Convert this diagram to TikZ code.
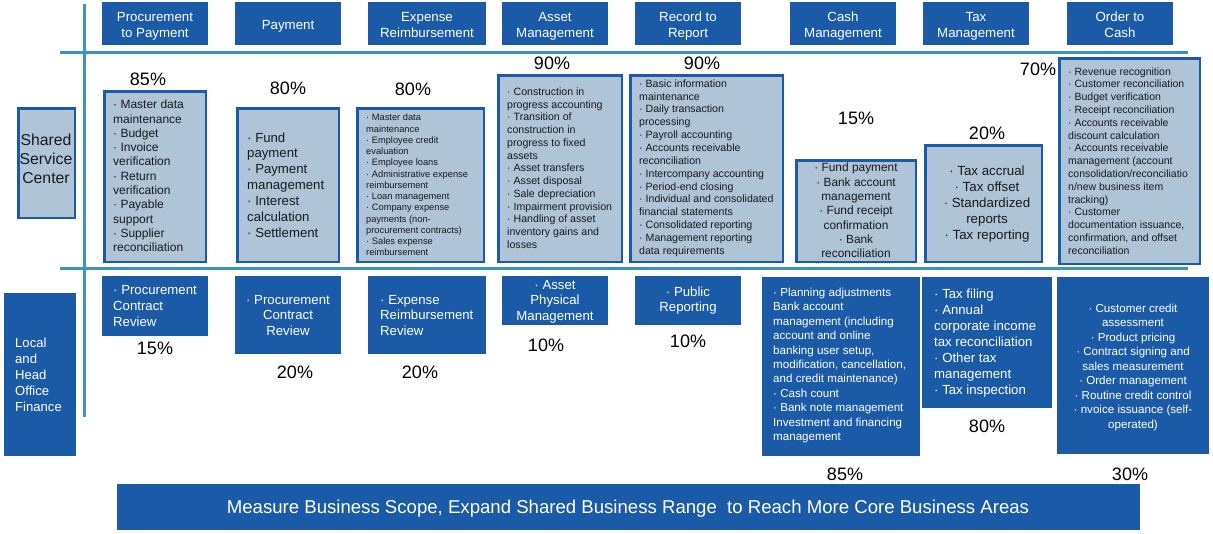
\documentclass[tikz,border=0pt]{standalone}
\usepackage{fontspec}
\setmainfont{Liberation Sans}
\definecolor{dblue}{RGB}{27,90,167}
\definecolor{lfill}{RGB}{176,196,216}
\definecolor{tealline}{RGB}{58,150,190}
\definecolor{dtext}{RGB}{25,25,25}
\tikzset{
  hdr/.style={fill=dblue, draw=none, inner sep=0pt},
  hdrt/.style={inner sep=0pt, text=white, align=center, text depth=2.8pt,
              font=\fontsize{13.3}{16}\selectfont},
  mbox/.style={fill=lfill, draw=dblue, line width=2.5pt, inner sep=0pt},
  bbox/.style={fill=dblue, draw=none, inner sep=0pt},
  tline/.style={draw=tealline, line width=3pt},
  pct/.style={font=\fontsize{18}{20}\selectfont, inner sep=0pt, text=black},
  wt/.style={text=white, inner sep=0pt},
  dt/.style={text=dtext, inner sep=0pt},
}
\begin{document}
\begin{tikzpicture}[x=1pt, y=-1pt]
\useasboundingbox (0,0) rectangle (1213,533);

% grid lines
\coordinate (la1) at (60,52);   \coordinate (la2) at (1188,52);
\coordinate (lb1) at (60,268);  \coordinate (lb2) at (1188,268);
\coordinate (lv1) at (84,4);    \coordinate (lv2) at (84,417);
\draw[tline] (la1) -- (la2);
\draw[tline] (lb1) -- (lb2);
\draw[tline] (lv1) -- (lv2);

% headers
\node[hdr, minimum width=106pt, minimum height=43pt] (h1) at (155,23.5) {};
\node[hdr, minimum width=106pt, minimum height=43pt] (h2) at (288,23.5) {};
\node[hdr, minimum width=118pt, minimum height=43pt] (h3) at (427,23.5) {};
\node[hdr, minimum width=106pt, minimum height=43pt] (h4) at (555,23.5) {};
\node[hdr, minimum width=106pt, minimum height=43pt] (h5) at (688,23.5) {};
\node[hdr, minimum width=106pt, minimum height=43pt] (h6) at (843,23.5) {};
\node[hdr, minimum width=106pt, minimum height=43pt] (h7) at (976,23.5) {};
\node[hdr, minimum width=106pt, minimum height=43pt] (h8) at (1120,23.5) {};
\node[hdrt] (h1t) at (155,26.5) {Procurement\\to Payment};
\node[hdrt] (h2t) at (288,26.5) {Payment};
\node[hdrt] (h3t) at (427,26.5) {Expense\\Reimbursement};
\node[hdrt] (h4t) at (555,26.5) {Asset\\Management};
\node[hdrt] (h5t) at (688,26.5) {Record to\\Report};
\node[hdrt] (h6t) at (843,26.5) {Cash\\Management};
\node[hdrt] (h7t) at (976,26.5) {Tax\\Management};
\node[hdrt] (h8t) at (1120,26.5) {Order to\\Cash};

% left labels
\node[mbox, minimum width=56.5pt, minimum height=109.5pt] (ssc) at (46.5,163) {};
\node[dt, align=center, font=\fontsize{15.8}{19}\selectfont] (ssct) at (46,159) {Shared\\Service\\Center};
\node[bbox, minimum width=72pt, minimum height=163pt] (lhof) at (40,374.5) {};
\node[wt, align=left, anchor=west, font=\fontsize{13.1}{16}\selectfont] (lhoft) at (15,375) {Local\\and\\Head\\Office\\Finance};

% middle boxes
\node[mbox, minimum width=101.5pt, minimum height=170.5pt] (m1) at (155,176.5) {};
\node[mbox, minimum width=101.5pt, minimum height=153.5pt] (m2) at (288,185) {};
\node[mbox, minimum width=126.5pt, minimum height=153.5pt] (m3) at (420.5,185) {};
\node[mbox, minimum width=123.5pt, minimum height=186.5pt] (m4) at (560,168.5) {};
\node[mbox, minimum width=152.5pt, minimum height=186.5pt] (m5) at (706.5,168.5) {};
\node[mbox, minimum width=119.5pt, minimum height=101.5pt] (m6) at (856,211) {};
\node[mbox, minimum width=116.5pt, minimum height=116.5pt] (m7) at (983.5,203.5) {};
\node[mbox, minimum width=140.5pt, minimum height=205.5pt] (m8) at (1129.5,161) {};

% middle texts
\node[dt, align=left, anchor=west, font=\fontsize{12}{14.3}\selectfont] (t1) at (113,176)
 {· Master data\\maintenance\\· Budget\\· Invoice\\verification\\· Return\\verification\\· Payable\\support\\· Supplier\\reconciliation};
\node[dt, align=left, anchor=west, font=\fontsize{13.2}{15.9}\selectfont] (t2) at (247,185)
 {· Fund\\payment\\· Payment\\management\\· Interest\\calculation\\· Settlement};
\node[dt, align=left, anchor=west, font=\fontsize{9.3}{11.25}\selectfont] (t3) at (366,185)
 {· Master data\\maintenance\\· Employee credit\\evaluation\\· Employee loans\\· Administrative expense\\reimbursement\\· Loan management\\· Company expense\\payments (non-\\procurement contracts)\\· Sales expense\\reimbursement};
\node[dt, align=left, anchor=west, font=\fontsize{10.6}{12.75}\selectfont] (t4) at (507,168)
 {· Construction in\\progress accounting\\· Transition of\\construction in\\progress to fixed\\assets\\· Asset transfers\\· Asset disposal\\· Sale depreciation\\· Impairment provision\\· Handling of asset\\inventory gains and\\losses};
\node[dt, align=left, anchor=west, font=\fontsize{10.6}{12.85}\selectfont] (t5) at (639,168)
 {· Basic information\\maintenance\\· Daily transaction\\processing\\· Payroll accounting\\· Accounts receivable\\reconciliation\\· Intercompany accounting\\· Period-end closing\\· Individual and consolidated\\financial statements\\· Consolidated reporting\\· Management reporting\\data requirements};
\node[dt, align=center, font=\fontsize{11.9}{14.3}\selectfont] (t6) at (856,210.5)
 {· Fund payment\\· Bank account\\management\\· Fund receipt\\confirmation\\· Bank\\reconciliation};
\node[dt, align=center, font=\fontsize{13.3}{16}\selectfont] (t7) at (987,204.5)
 {· Tax accrual\\· Tax offset\\· Standardized\\reports\\· Tax reporting};
\node[dt, align=left, anchor=west, font=\fontsize{10.5}{12.8}\selectfont] (t8) at (1068,161)
 {· Revenue recognition\\· Customer reconciliation\\· Budget verification\\· Receipt reconciliation\\· Accounts receivable\\discount calculation\\· Accounts receivable\\management (account\\consolidation/reconciliatio\\n/new business item\\tracking)\\· Customer\\documentation issuance,\\confirmation, and offset\\reconciliation};

% middle percents
\node[pct] (p1) at (148,79) {85\%};
\node[pct] (p2) at (288,88) {80\%};
\node[pct] (p3) at (413,89) {80\%};
\node[pct] (p4) at (552,63) {90\%};
\node[pct] (p5) at (702,63) {90\%};
\node[pct] (p6) at (856,118) {15\%};
\node[pct] (p7) at (987,133) {20\%};
\node[pct] (p8) at (1038,69) {70\%};

% bottom boxes
\node[bbox, minimum width=106pt, minimum height=60pt] (b1) at (155,306) {};
\node[bbox, minimum width=106pt, minimum height=78pt] (b2) at (288,315) {};
\node[bbox, minimum width=118pt, minimum height=78pt] (b3) at (427,315) {};
\node[bbox, minimum width=106pt, minimum height=49pt] (b4) at (555,300.5) {};
\node[bbox, minimum width=106pt, minimum height=49pt] (b5) at (688,300.5) {};
\node[bbox, minimum width=158pt, minimum height=179pt] (b6) at (841,366.5) {};
\node[bbox, minimum width=130pt, minimum height=131pt] (b7) at (987,342.5) {};
\node[bbox, minimum width=152pt, minimum height=177pt] (b8) at (1133,365.5) {};

% bottom texts
\node[wt, align=left, anchor=west, font=\fontsize{13.2}{16}\selectfont] (u1) at (113,306)
 {· Procurement\\Contract\\Review};
\node[wt, align=center, font=\fontsize{13.2}{15.5}\selectfont] (u2) at (288,315.5)
 {· Procurement\\Contract\\Review};
\node[wt, align=left, anchor=west, font=\fontsize{13.2}{15.5}\selectfont] (u3) at (380,315.5)
 {· Expense\\Reimbursement\\Review};
\node[wt, align=center, font=\fontsize{13.2}{15.5}\selectfont] (u4) at (555,301.5)
 {· Asset\\Physical\\Management};
\node[wt, align=center, font=\fontsize{13.2}{15.5}\selectfont] (u5) at (688,300.5)
 {· Public\\Reporting};
\node[wt, align=left, anchor=west, font=\fontsize{11.6}{14.4}\selectfont] (u6) at (773,365.5)
 {· Planning adjustments\\Bank account\\management (including\\account and online\\banking user setup,\\modification, cancellation,\\and credit maintenance)\\· Cash count\\· Bank note management\\Investment and financing\\management};
\node[wt, align=left, anchor=west, font=\fontsize{13.2}{16}\selectfont] (u7) at (934,343.5)
 {· Tax filing\\· Annual\\corporate income\\tax reconciliation\\· Other tax\\management\\· Tax inspection};
\node[wt, align=center, font=\fontsize{11.6}{14.5}\selectfont] (u8) at (1133,367)
 {· Customer credit\\assessment\\· Product pricing\\· Contract signing and\\sales measurement\\· Order management\\· Routine credit control\\· nvoice issuance (self-\\operated)};

% bottom percents
\node[pct] (q1) at (155,348) {15\%};
\node[pct] (q2) at (295,372) {20\%};
\node[pct] (q3) at (420,372) {20\%};
\node[pct] (q4) at (546,345) {10\%};
\node[pct] (q5) at (688,341) {10\%};
\node[pct] (q6) at (845,474) {85\%};
\node[pct] (q7) at (987,426) {80\%};
\node[pct] (q8) at (1130,474) {30\%};

% banner
\node[bbox, minimum width=1023pt, minimum height=46pt] (banner) at (628.5,507) {};
\node[wt, font=\fontsize{18.6}{21}\selectfont] (bannert) at (628,509)
 {Measure Business Scope, Expand Shared Business Range\ \ to Reach More Core Business Areas};
\end{tikzpicture}
\end{document}
